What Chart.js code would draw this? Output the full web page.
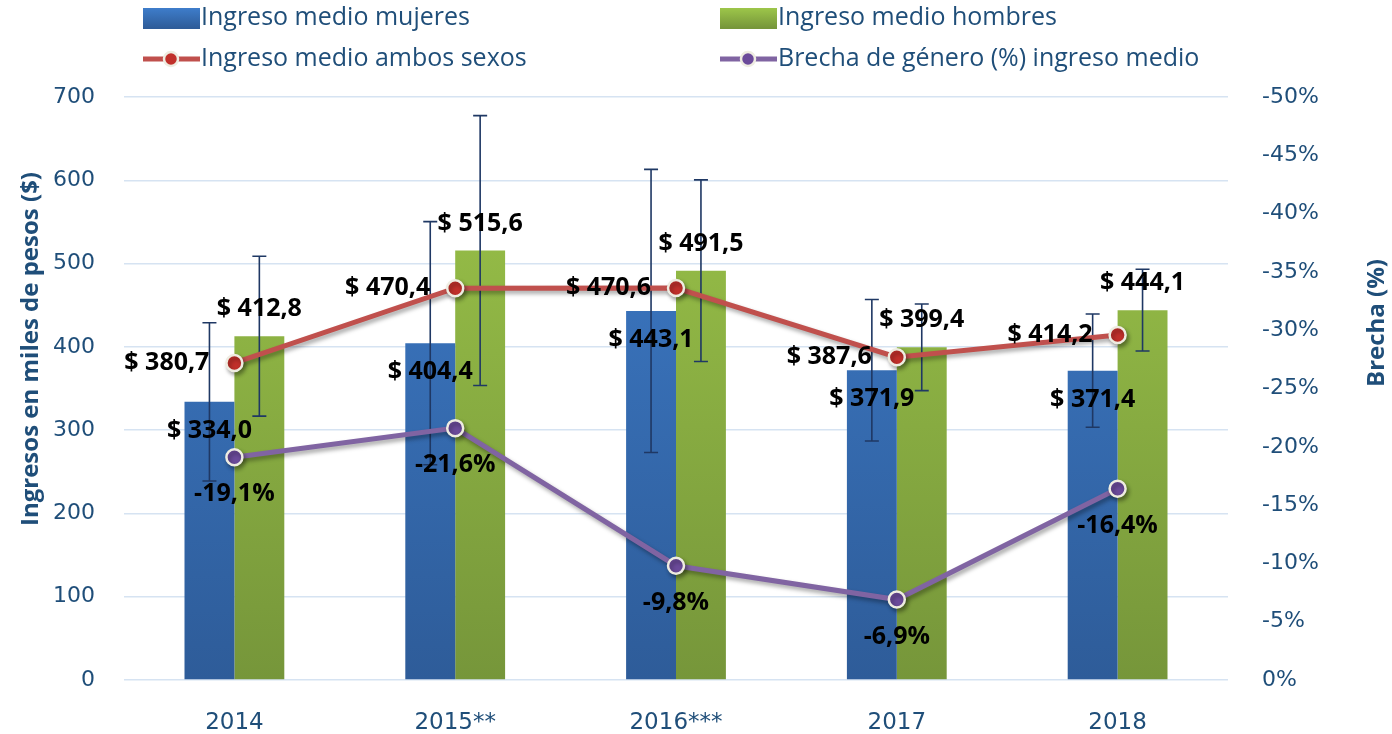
<!DOCTYPE html>
<html>
<head>
<meta charset="utf-8">
<script src="https://cdn.jsdelivr.net/npm/chart.js@4.4.1/dist/chart.umd.min.js"></script>
<style>
  html, body { margin: 0; padding: 0; background: #fff; }
</style>
</head>
<body>
<canvas id="grafico" width="1392" height="734"></canvas>
<script>
/* DATOS */
const anios = ["2014", "2015**", "2016***", "2017", "2018"];
const ingresoMujeres = [334.0, 404.4, 443.1, 371.9, 371.4];
const ingresoHombres = [412.8, 515.6, 491.5, 399.4, 444.1];
const ingresoAmbos = [380.7, 470.4, 470.6, 387.6, 414.2];
const brechaGenero = [-19.1, -21.6, -9.8, -6.9, -16.4];
const errorMujeres = [95, 146, 170, 85, 68];
const errorHombres = [96, 162, 109, 52, 49];

const azulTexto = "#1F4E79";

function pesos(v) {
  return "$ " + v.toFixed(1).replace(".", ",");
}
function porcentaje(v) {
  return v.toFixed(1).replace(".", ",") + "%";
}

function degradado(ctx, arriba, abajo) {
  const area = ctx.chart.chartArea;
  if (!area) return arriba;
  const g = ctx.chart.ctx.createLinearGradient(0, area.top, 0, area.bottom);
  g.addColorStop(0, arriba);
  g.addColorStop(1, abajo);
  return g;
}

/* =========================
   PLUGINS
========================= */
const barrasError = {
  id: "barrasError",
  afterDatasetDraw(chart, args) {
    const errores = args.index === 0 ? errorMujeres : args.index === 1 ? errorHombres : null;
    if (!errores) return;
    const c = chart.ctx;
    const y = chart.scales.y;
    const valores = chart.data.datasets[args.index].data;
    c.save();
    c.strokeStyle = "#1F3864";
    c.lineWidth = 1.6;
    args.meta.data.forEach((bar, i) => {
      const top = y.getPixelForValue(valores[i] + errores[i]);
      const bot = y.getPixelForValue(valores[i] - errores[i]);
      c.beginPath();
      c.moveTo(bar.x, top);
      c.lineTo(bar.x, bot);
      c.moveTo(bar.x - 7, top);
      c.lineTo(bar.x + 7, top);
      c.moveTo(bar.x - 7, bot);
      c.lineTo(bar.x + 7, bot);
      c.stroke();
    });
    c.restore();
  },
};

const sombraLineas = {
  id: "sombraLineas",
  beforeDatasetDraw(chart, args) {
    if (args.meta.type !== "line") return;
    const c = chart.ctx;
    c.save();
    c.shadowColor = "rgba(0,0,0,0.35)";
    c.shadowBlur = 4;
    c.shadowOffsetX = 2;
    c.shadowOffsetY = 3;
  },
  afterDatasetDraw(chart, args) {
    if (args.meta.type !== "line") return;
    chart.ctx.restore();
  },
};

const etiquetas = {
  id: "etiquetas",
  afterDraw(chart) {
    const c = chart.ctx;
    c.save();
    c.font = "bold 25px 'Open Sans'";
    c.fillStyle = "#000";
    c.textBaseline = "middle";

    // mujeres: dentro de la barra
    c.textAlign = "center";
    chart.getDatasetMeta(0).data.forEach((b, i) => {
      c.fillText(pesos(ingresoMujeres[i]), b.x, b.y + 29);
    });
    // hombres: sobre la barra
    chart.getDatasetMeta(1).data.forEach((b, i) => {
      c.fillText(pesos(ingresoHombres[i]), b.x, b.y - 27);
    });
    // ambos sexos: a la izquierda del punto
    c.textAlign = "right";
    chart.getDatasetMeta(2).data.forEach((p, i) => {
      c.fillText(pesos(ingresoAmbos[i]), p.x - 25, p.y);
    });
    // brecha: debajo del punto
    c.textAlign = "center";
    chart.getDatasetMeta(3).data.forEach((p, i) => {
      c.fillText(porcentaje(brechaGenero[i]), p.x, p.y + 37);
    });
    c.restore();

    // titulos de ejes (ambos se leen de abajo hacia arriba)
    c.save();
    c.font = "bold 24px 'Open Sans'";
    c.fillStyle = azulTexto;
    c.textAlign = "center";
    c.textBaseline = "middle";
    c.translate(31, 349);
    c.rotate(-Math.PI / 2);
    c.fillText("Ingresos en miles de pesos ($)", 0, 0);
    c.restore();

    c.save();
    c.font = "bold 24px 'Open Sans'";
    c.fillStyle = azulTexto;
    c.textAlign = "center";
    c.textBaseline = "middle";
    c.translate(1377, 323);
    c.rotate(-Math.PI / 2);
    c.fillText("Brecha (%)", 0, 0);
    c.restore();
  },
};

const leyenda = {
  id: "leyenda",
  afterDraw(chart) {
    const c = chart.ctx;
    const posiciones = [
      { x: 143, y: 18 },
      { x: 720, y: 18 },
      { x: 143, y: 59 },
      { x: 720, y: 59 },
    ];
    c.save();
    c.font = "25px 'Open Sans'";
    c.textBaseline = "middle";
    c.textAlign = "left";
    chart.data.datasets.forEach((ds, i) => {
      const p = posiciones[i];
      if (ds.type === "bar") {
        const g = c.createLinearGradient(0, p.y - 10, 0, p.y + 10);
        g.addColorStop(0, ds.colorArriba);
        g.addColorStop(1, ds.colorAbajo);
        c.fillStyle = g;
        c.fillRect(p.x, p.y - 10, 57, 21);
      } else {
        c.strokeStyle = ds.borderColor;
        c.lineWidth = 5;
        c.beginPath();
        c.moveTo(p.x, p.y);
        c.lineTo(p.x + 57, p.y);
        c.stroke();
        c.beginPath();
        c.arc(p.x + 28, p.y, 7, 0, Math.PI * 2);
        c.fillStyle = ds.pointBackgroundColor;
        c.fill();
        c.lineWidth = 2.5;
        c.strokeStyle = "#EEECE1";
        c.stroke();
      }
      c.fillStyle = azulTexto;
      c.fillText(ds.label, p.x + 58, p.y);
    });
    c.restore();
  },
};

/* =========================
   GRAFICO
========================= */
new Chart(document.getElementById("grafico"), {
  data: {
    labels: anios,
    datasets: [
      {
        type: "bar",
        label: "Ingreso medio mujeres",
        data: ingresoMujeres,
        colorArriba: "#3E7DCB",
        colorAbajo: "#2E5C99",
        backgroundColor: (ctx) => degradado(ctx, "#3E7DCB", "#2E5C99"),
        yAxisID: "y",
        order: 2,
        categoryPercentage: 0.452,
        barPercentage: 1,
      },
      {
        type: "bar",
        label: "Ingreso medio hombres",
        data: ingresoHombres,
        colorArriba: "#9DC64A",
        colorAbajo: "#76963A",
        backgroundColor: (ctx) => degradado(ctx, "#9DC64A", "#76963A"),
        yAxisID: "y",
        order: 2,
        categoryPercentage: 0.452,
        barPercentage: 1,
      },
      {
        type: "line",
        label: "Ingreso medio ambos sexos",
        data: ingresoAmbos,
        borderColor: "#C0504D",
        borderWidth: 5,
        pointRadius: 8,
        pointBackgroundColor: "#C0302B",
        pointBorderColor: "#EEECE1",
        pointBorderWidth: 2.5,
        yAxisID: "y",
        order: 1,
      },
      {
        type: "line",
        label: "Brecha de género (%) ingreso medio",
        data: brechaGenero,
        borderColor: "#8064A2",
        borderWidth: 5,
        pointRadius: 8,
        pointBackgroundColor: "#6B4A9A",
        pointBorderColor: "#EEECE1",
        pointBorderWidth: 2.5,
        yAxisID: "y1",
        order: 1,
      },
    ],
  },
  options: {
    responsive: false,
    animation: false,
    layout: { padding: { top: 97, left: 0, right: 0, bottom: 0 } },
    plugins: {
      legend: { display: false },
      tooltip: { enabled: false },
    },
    scales: {
      x: {
        grid: { display: false },
        border: { display: false },
        ticks: {
          color: azulTexto,
          font: { family: "'DejaVu Sans'", size: 23 },
          padding: 21,
        },
        afterFit: (s) => { s.height = 54; },
      },
      y: {
        position: "left",
        min: 0,
        max: 700,
        ticks: {
          stepSize: 100,
          color: azulTexto,
          font: { family: "'DejaVu Sans'", size: 22 },
          padding: 29,
        },
        grid: { color: "#D6E3F2", lineWidth: 1.5, drawTicks: false },
        border: { display: false },
        afterFit: (s) => { s.width = 124; },
      },
      y1: {
        position: "right",
        min: -50,
        max: 0,
        reverse: true,
        ticks: {
          stepSize: 5,
          color: azulTexto,
          font: { family: "'DejaVu Sans'", size: 22 },
          padding: 34,
          callback: (v) => v + "%",
        },
        grid: { drawOnChartArea: false, drawTicks: false },
        border: { display: false },
        afterFit: (s) => { s.width = 164; },
      },
    },
  },
  plugins: [barrasError, sombraLineas, etiquetas, leyenda],
});
</script>
</body>
</html>
